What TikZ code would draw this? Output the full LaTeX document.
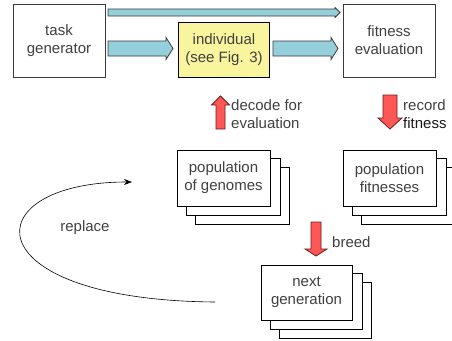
\documentclass[tikz,border=0pt]{standalone}
\usepackage{fontspec}
\setmainfont{Liberation Sans}
\usetikzlibrary{arrows.meta}
\pgfdeclarelayer{background}
\pgfsetlayers{background,main}

\definecolor{txtgray}{HTML}{404040}
\definecolor{linegray}{HTML}{3A3A3A}
\definecolor{flowcyan}{HTML}{95CFDC}
\definecolor{flowred}{HTML}{FF5656}
\definecolor{rededge}{HTML}{6E1C1C}
\definecolor{indyellow}{HTML}{F9F59E}

% horizontal block arrow: y-centre, tail x, head-base x, tip x, half body, half head
\newcommand\hblock[7][]{%
  \draw[#1] (#3,#2-#6) -- (#4,#2-#6) -- (#4,#2-#7) -- (#5,#2) -- (#4,#2+#7)
    -- (#4,#2+#6) -- (#3,#2+#6) -- cycle;}
% vertical block arrow: x-centre, tail y, head-base y, tip y, half body, half head
\newcommand\vblock[7][]{%
  \draw[#1] (#2-#6,#3) -- (#2-#6,#4) -- (#2-#7,#4) -- (#2,#5) -- (#2+#7,#4)
    -- (#2+#6,#4) -- (#2+#6,#3) -- cycle;}

\tikzset{
  lbl/.style={font=\fontsize{15}{18}\selectfont, text=txtgray, align=center, inner sep=0pt},
  stage/.style={lbl, draw=linegray, fill=white, line width=0.8pt},
  cyanflow/.style={draw=linegray, fill=flowcyan, line width=0.8pt},
  redflow/.style={draw=rededge, fill=flowred, line width=0.8pt},
  stackcopy/.style={draw=black, fill=white, line width=0.8pt},
}

\begin{document}
\begin{tikzpicture}[x=1pt, y=-1pt]
\useasboundingbox (0,0) rectangle (452,340);

% top row
\node[stage, minimum width=92pt, minimum height=73pt] (task) at (59,40.5) {task\\generator};
\node[lbl, draw=black, fill=indyellow, line width=1.8pt, minimum width=91pt, minimum height=55pt]
  (ind) at (224,50) {individual\\(see Fig. 3)};
\node[stage, minimum width=92pt, minimum height=73pt] (fit) at (389,40.5) {fitness\\evaluation};

\hblock[cyanflow]{12.5}{108}{335}{340}{3.5}{5}
\hblock[cyanflow]{48.5}{108}{166}{173}{7.5}{11}
\hblock[cyanflow]{48.5}{273}{331}{338}{7.5}{11}

% decode / record
\vblock[redflow]{220.5}{129}{105}{96}{4.5}{9}
\node[lbl, align=left, anchor=west] (decode) at (231,114) {decode for\\evaluation};
\vblock[redflow]{390}{95}{118}{129}{7}{12}
\node[lbl, align=left, anchor=west] (record) at (403,114) {record\\\textcolor{black!90}{fitness}};

% populations
\node[stage, draw=black, minimum width=93pt, minimum height=56pt] (genomes) at (223.5,178) {population\\of genomes};
\node[stage, draw=black, minimum width=93pt, minimum height=56pt] (fitnesses) at (389.5,178) {population\\fitnesses};

% breed
\vblock[redflow]{316}{222}{249}{256}{5}{11}
\node[lbl, anchor=west] (breed) at (332,242) {breed};

\node[stage, draw=black, minimum width=91pt, minimum height=55pt] (next) at (306.5,292.5) {next\\generation};

% stacked copies behind the population boxes
\begin{pgfonlayer}{background}
  \foreach \n in {genomes,fitnesses,next}{
    \draw[stackcopy] ([shift={(19,18)}]\n.north west) rectangle ([shift={(19,18)}]\n.south east);
    \draw[stackcopy] ([shift={(9.5,9)}]\n.north west) rectangle ([shift={(9.5,9)}]\n.south east);
  }
\end{pgfonlayer}

% replace loop
\coordinate (loopstart) at (215,302);
\coordinate (loopend) at (132,182);
\draw[line width=0.6pt, -{Stealth[length=8pt,width=6pt]}]
  (loopstart) .. controls (-30,300) and (-27,182) .. (loopend);
\node[lbl] (replace) at (85,228) {replace};
\end{tikzpicture}
\end{document}
